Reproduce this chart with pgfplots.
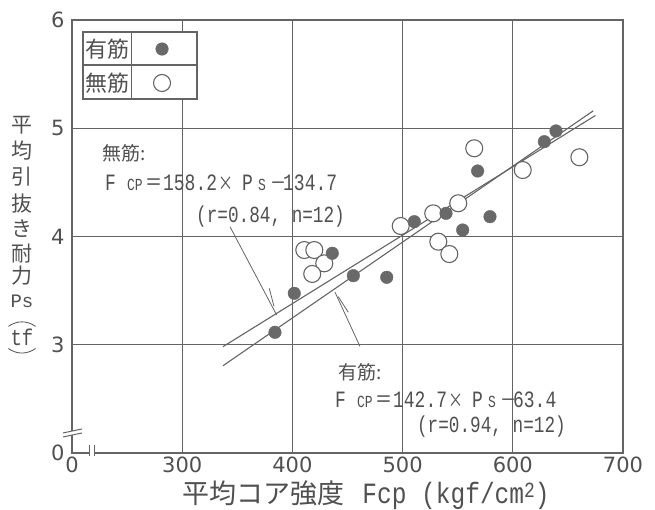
\documentclass[border=0pt]{standalone}
\usepackage{fontspec}
\usepackage{graphicx}
\usepackage{pgfplots}
\pgfplotsset{compat=1.18}
\setmainfont{DejaVu Sans}
\newfontfamily\cjk{Noto Sans CJK JP}
\newfontfamily\monof{Liberation Mono}
\definecolor{ink}{RGB}{80,80,80}
\definecolor{lin}{RGB}{100,100,100}
\definecolor{dot}{RGB}{105,105,105}
\newcommand{\sm}[1]{{\fontsize{13}{13}\selectfont #1}}
\newcommand{\eqn}[2]{\scalebox{1}[1.3]{\monof\fontsize{18}{18}\selectfont
 \makebox[22pt][l]{F}\makebox[18pt][l]{\sm{CP}}\makebox[18pt][c]{\cjk\fontsize{17}{17}\selectfont ＝}\makebox[55pt][l]{#1}\makebox[24pt][l]{\cjk\fontsize{15}{15}\selectfont ×}\makebox[16pt][l]{P}\makebox[12pt][l]{\sm{S}}\makebox[13pt][l]{\cjk\fontsize{16}{16}\selectfont －}#2}}
\newcommand{\rn}[1]{\scalebox{1}[1.3]{\monof\fontsize{17.7}{18}\selectfont (r=#1, n=12)}}
\begin{document}
\begin{tikzpicture}
\path[use as bounding box] (-72pt,-57pt) rectangle (583pt,453pt);
\begin{axis}[at={(0pt,0pt)}, anchor=south west, scale only axis,
 width=551pt, height=433pt,
 xmin=200, xmax=700, ymin=2, ymax=6,
 xtick={200,300,400,500,600,700}, xticklabels={0,300,400,500,600,700},
 ytick={2,3,4,5,6}, yticklabels={0,3,4,5,6},
 major tick length=0pt,
 grid=major, grid style={lin, line width=1pt},
 axis line style={lin, line width=1.3pt},
 tick label style={ink, font=\fontsize{21}{21}\selectfont},
 yticklabel style={xshift=-4pt},
 clip=false,
 /pgf/number format/assume math mode=true]
% regression lines
\addplot[lin, line width=1.1pt] coordinates {(337,2.982) (675,5.118)};
\addplot[lin, line width=1.1pt] coordinates {(337,2.806) (673,5.161)};
% 無筋 (open)
\addplot[only marks, mark=*, mark size=8.5pt, mark options={fill=white, draw=lin, line width=1.1pt}] coordinates {
(410.8,3.875) (419.9,3.875) (428.9,3.752) (418.0,3.654) (498.3,4.097) (527.8,4.214)
(550.5,4.307) (532.4,3.952) (542.4,3.838) (565.0,4.815) (609.0,4.614) (660.4,4.732)};
% 有筋 (filled)
\addplot[only marks, mark=*, mark size=6.3pt, mark options={fill=dot, draw=dot}] coordinates {
(401.7,3.475) (384.2,3.115) (436.2,3.845) (455.3,3.638) (485.6,3.623) (510.6,4.137)
(539.4,4.214) (554.5,4.060) (579.3,4.183) (568.1,4.605) (628.6,4.876) (639.2,4.975)};
% legend box
\draw[lin, line width=1.1pt, fill=white] (axis cs:210,5.889) rectangle (axis cs:313.4,5.27);
\draw[lin, line width=1.1pt] (axis cs:254.4,5.889) -- (axis cs:254.4,5.27);
\draw[lin, line width=1.1pt] (axis cs:210,5.584) -- (axis cs:313.4,5.584);
\addplot[only marks, mark=*, mark size=6.3pt, mark options={fill=dot, draw=dot}] coordinates {(281.7,5.732)};
\addplot[only marks, mark=*, mark size=8.5pt, mark options={fill=white, draw=lin, line width=1.1pt}] coordinates {(281.7,5.418)};
\node[ink, font=\cjk\fontsize{22}{22}\selectfont] at (axis cs:232.2,5.732) {有筋};
\node[ink, font=\cjk\fontsize{22}{22}\selectfont] at (axis cs:232.2,5.418) {無筋};
% annotations
\node[ink, anchor=west, inner sep=0pt, font=\cjk\fontsize{19}{19}\selectfont] at (axis cs:227.2,4.771) {無筋:};
\node[ink, anchor=west, inner sep=0pt] at (axis cs:229.9,4.494) {\eqn{158.2}{134.7}};
\node[ink, anchor=west, inner sep=0pt] at (axis cs:312.5,4.18) {\rn{0.84}};
\node[ink, anchor=west, inner sep=0pt, font=\cjk\fontsize{19}{19}\selectfont] at (axis cs:441.4,2.748) {有筋:};
\node[ink, anchor=west, inner sep=0pt] at (axis cs:438.6,2.49) {\eqn{142.7}{63.4}};
\node[ink, anchor=west, inner sep=0pt] at (axis cs:513,2.24) {\rn{0.94}};
% pointers
\draw[lin, line width=0.8pt] (axis cs:343.4,4.09) -- (axis cs:385.7,3.275);
\draw[lin, line width=0.8pt] (axis cs:379.0,3.521) -- (axis cs:383.3,3.355);
\draw[lin, line width=0.8pt] (axis cs:438.6,3.487) -- (axis cs:461.3,2.985);
\draw[lin, line width=0.8pt] (axis cs:441.6,3.444) -- (axis cs:450.7,3.30);
% axis breaks
\fill[white] (axis cs:191.8,2.185) -- (axis cs:209.1,2.222) -- (axis cs:209.1,2.185) -- (axis cs:191.8,2.148) -- cycle;
\draw[lin, line width=1pt] (axis cs:191.8,2.185) -- (axis cs:209.1,2.222);
\draw[lin, line width=1pt] (axis cs:191.8,2.148) -- (axis cs:209.1,2.185);
\fill[white] (axis cs:216.3,2.074) rectangle (axis cs:220.4,1.972);
\draw[lin, line width=1pt] (axis cs:216.3,2.074) -- (axis cs:216.3,1.972);
\draw[lin, line width=1pt] (axis cs:220.4,2.074) -- (axis cs:220.4,1.972);
% x label
\node[ink, anchor=west, inner sep=0pt] at (axis cs:300,1.615) {{\cjk\fontsize{27}{27}\selectfont 平均コア強度}\hspace{18pt}\scalebox{1}[1.2]{\monof\fontsize{24.5}{24.5}\selectfont Fcp (kgf/cm\raisebox{5pt}{\fontsize{18}{18}\selectfont 2})}};
% y label (vertical)
\begin{scope}[every node/.style={ink, font=\cjk\fontsize{21}{21}\selectfont, inner sep=0pt}]
\node at (axis cs:154.6,5.030) {平};
\node at (axis cs:154.6,4.790) {均};
\node at (axis cs:154.6,4.550) {引};
\node at (axis cs:154.6,4.309) {抜};
\node at (axis cs:154.6,4.069) {き};
\node at (axis cs:154.6,3.838) {耐};
\node at (axis cs:154.6,3.640) {力};
\end{scope}
\node[ink, inner sep=0pt] at (axis cs:154.6,3.400) {\monof\fontsize{19}{19}\selectfont Ps};
\node[ink, inner sep=0pt] (tf) at (axis cs:154.6,3.072) {\scalebox{1}[1.2]{\monof\fontsize{19}{19}\selectfont tf}};
\draw[ink, line width=0.8pt] ([xshift=-2pt,yshift=2pt]tf.north west) to[bend left=35] ([xshift=2pt,yshift=2pt]tf.north east);
\draw[ink, line width=0.8pt] ([xshift=-2pt,yshift=-3pt]tf.south west) to[bend right=35] ([xshift=2pt,yshift=-3pt]tf.south east);
\end{axis}
\end{tikzpicture}
\end{document}
